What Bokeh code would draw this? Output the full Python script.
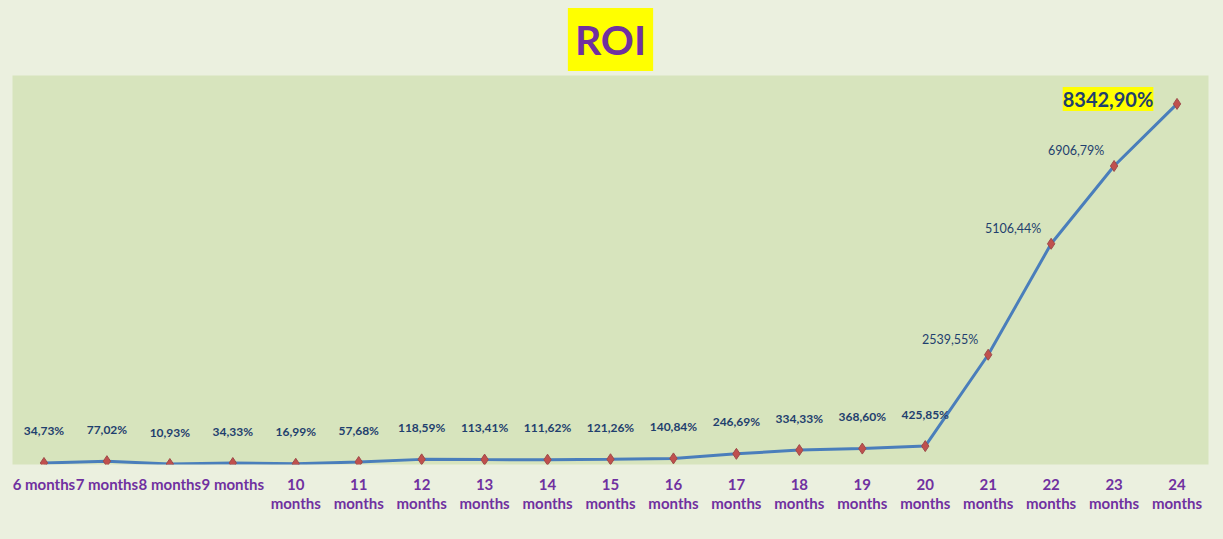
from bokeh.plotting import figure
from bokeh.models import (ColumnDataSource, LabelSet, Range1d, LinearAxis, Title,
                          FixedTicker)
from bokeh.core.properties import value
from bokeh.embed import file_html
from bokeh.resources import INLINE

months = ["6 months", "7 months", "8 months", "9 months", "10 months", "11 months",
          "12 months", "13 months", "14 months", "15 months", "16 months", "17 months",
          "18 months", "19 months", "20 months", "21 months", "22 months", "23 months",
          "24 months"]
tick_line1 = ["6 months", "7 months", "8 months", "9 months", "10", "11", "12", "13",
              "14", "15", "16", "17", "18", "19", "20", "21", "22", "23", "24"]
tick_line2 = ["", "", "", "", "months", "months", "months", "months", "months", "months",
              "months", "months", "months", "months", "months", "months", "months",
              "months", "months"]
roi = [34.73, 77.02, 10.93, 34.33, 16.99, 57.68, 118.59, 113.41, 111.62, 121.26,
       140.84, 246.69, 334.33, 368.60, 425.85, 2539.55, 5106.44, 6906.79, 8342.90]
roi_text = ["34,73%", "77,02%", "10,93%", "34,33%", "16,99%", "57,68%", "118,59%",
            "113,41%", "111,62%", "121,26%", "140,84%", "246,69%", "334,33%", "368,60%",
            "425,85%", "2539,55%", "5106,44%", "6906,79%", "8342,90%"]

FONT = "Lato"
OUTER = "#EBF0DF"
INNER = "#D7E4BD"
PURPLE = "#7030A0"
LABEL_BLUE = "#1F3F6E"

idx = list(range(len(months)))

p = figure(x_range=Range1d(-0.5, len(months) - 0.5), y_range=Range1d(0, 9000),
           width=1223, height=539, output_backend="svg", toolbar_location=None,
           x_axis_type=None, y_axis_type=None,
           min_border_left=12, min_border_right=15, min_border_top=75, min_border_bottom=75)
p.background_fill_color = INNER
p.border_fill_color = OUTER
p.outline_line_color = None
p.xgrid.grid_line_color = None
p.ygrid.grid_line_color = None

t = Title(text="ROI", align="center", text_font=FONT, text_font_style="bold",
          text_font_size="41px", text_color=PURPLE, background_fill_color="#FFFF00",
          standoff=9, padding=7)
p.add_layout(t, "above")


def make_axis(labels, standoff):
    ax = LinearAxis(ticker=FixedTicker(ticks=idx))
    ax.axis_line_color = None
    ax.major_tick_line_color = None
    ax.minor_tick_line_color = None
    ax.major_label_standoff = standoff
    ax.major_label_text_color = PURPLE
    ax.major_label_text_font = FONT
    ax.major_label_text_font_style = "bold"
    ax.major_label_text_font_size = "15px"
    ax.major_label_overrides = {i: s for i, s in zip(idx, labels)}
    return ax


p.add_layout(make_axis(tick_line1, 4), "below")
p.add_layout(make_axis(tick_line2, -8), "below")

src = ColumnDataSource(dict(x=idx, y=roi, t=roi_text))
p.line("x", "y", source=src, line_color="#4A7EBB", line_width=3)
p.scatter("x", "y", source=src, marker="diamond", size=11,
          fill_color="#C0504D", line_color="#9E4A4A", line_width=1)

n_low = 15
low = ColumnDataSource(dict(x=idx[:n_low], y=roi[:n_low], t=roi_text[:n_low]))
mid = ColumnDataSource(dict(x=idx[n_low:-1], y=roi[n_low:-1], t=roi_text[n_low:-1]))
top = ColumnDataSource(dict(x=idx[-1:], y=roi[-1:], t=roi_text[-1:]))

p.add_layout(LabelSet(x="x", y="y", text="t", source=low, y_offset=32,
                      text_align="center", text_baseline="middle",
                      text_font=value(FONT), text_font_style="bold", text_font_size="12px",
                      text_color=LABEL_BLUE))
p.add_layout(LabelSet(x="x", y="y", text="t", source=mid, x_offset=-38, y_offset=15,
                      text_align="center", text_baseline="middle",
                      text_font=value(FONT), text_font_size="12.5px",
                      text_color=LABEL_BLUE))
p.add_layout(LabelSet(x="x", y="y", text="t", source=top, x_offset=-69, y_offset=5,
                      text_align="center", text_baseline="middle",
                      text_font=value(FONT), text_font_style="bold", text_font_size="20px",
                      text_color=LABEL_BLUE, background_fill_color="#FFFF00"))

html = file_html(p, INLINE, title="ROI")
html = html.replace("<head>", "<head><style>body{background:%s;}</style>" % OUTER, 1)
open("out.html", "w").write(html)
